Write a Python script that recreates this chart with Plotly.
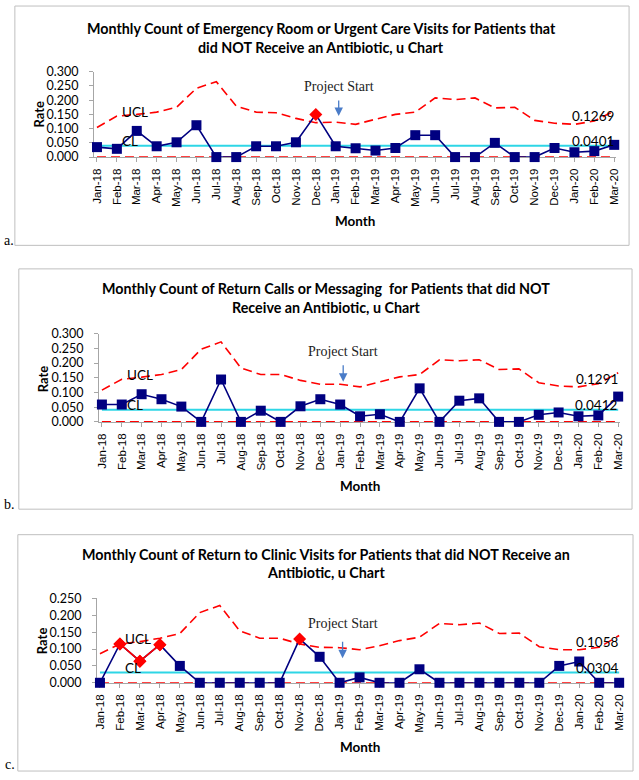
import plotly.graph_objects as go

months = ["Jan-18", "Feb-18", "Mar-18", "Apr-18", "May-18", "Jun-18", "Jul-18", "Aug-18",
          "Sep-18", "Oct-18", "Nov-18", "Dec-18", "Jan-19", "Feb-19", "Mar-19", "Apr-19",
          "May-19", "Jun-19", "Jul-19", "Aug-19", "Sep-19", "Oct-19", "Nov-19", "Dec-19",
          "Jan-20", "Feb-20", "Mar-20"]

# Panel a: Emergency Room or Urgent Care Visits
a_rate = [0.035, 0.029, 0.092, 0.038, 0.052, 0.112, 0.0, 0.0, 0.038, 0.038, 0.052, 0.150,
          0.038, 0.031, 0.023, 0.032, 0.077, 0.077, 0.0, 0.0, 0.050, 0.0, 0.0, 0.032,
          0.017, 0.021, 0.043]
a_ucl = [0.104, 0.144, 0.150, 0.158, 0.175, 0.242, 0.265, 0.179, 0.158, 0.156, 0.136, 0.121,
         0.123, 0.115, 0.133, 0.150, 0.158, 0.208, 0.202, 0.208, 0.173, 0.175, 0.129, 0.119,
         0.115, 0.127, 0.162]
a_cl = 0.0401
a_ucl_label = "0.1269"
a_signals = ["Dec-18"]

# Panel b: Return Calls or Messaging
b_rate = [0.059, 0.059, 0.094, 0.077, 0.052, 0.0, 0.144, 0.0, 0.038, 0.0, 0.053, 0.077,
          0.059, 0.019, 0.026, 0.0, 0.114, 0.0, 0.072, 0.080, 0.0, 0.0, 0.024, 0.032,
          0.019, 0.022, 0.086]
b_ucl = [0.108, 0.145, 0.152, 0.161, 0.178, 0.247, 0.272, 0.183, 0.161, 0.161, 0.141, 0.128,
         0.128, 0.119, 0.136, 0.153, 0.161, 0.211, 0.208, 0.211, 0.178, 0.180, 0.133, 0.122,
         0.119, 0.130, 0.167]
b_cl = 0.0412
b_ucl_label = "0.1291"
b_signals = []

# Panel c: Return to Clinic Visits
c_rate = [0.0, 0.115, 0.064, 0.113, 0.050, 0.0, 0.0, 0.0, 0.0, 0.0, 0.130, 0.077,
          0.0, 0.016, 0.0, 0.0, 0.040, 0.0, 0.0, 0.0, 0.0, 0.0, 0.0, 0.050,
          0.063, 0.0, 0.0]
c_ucl = [0.086, 0.115, 0.122, 0.132, 0.146, 0.208, 0.229, 0.154, 0.132, 0.132, 0.115, 0.105,
         0.104, 0.098, 0.110, 0.125, 0.135, 0.176, 0.172, 0.177, 0.146, 0.147, 0.107, 0.098,
         0.098, 0.105, 0.140]
c_cl = 0.0304
c_ucl_label = "0.1058"
c_signals = ["Feb-18", "Mar-18", "Apr-18", "Nov-18"]

titles = [
    ["Monthly Count of Emergency Room or Urgent Care Visits for Patients that",
     "did NOT Receive an Antibiotic, u Chart"],
    ["Monthly Count of Return Calls or Messaging  for Patients that did NOT",
     "Receive an Antibiotic, u Chart"],
    ["Monthly Count of Return to Clinic Visits for Patients that did NOT Receive an",
     "Antibiotic, u Chart"],
]
y_ticks = [[0.0, 0.05, 0.10, 0.15, 0.20, 0.25, 0.30],
           [0.0, 0.05, 0.10, 0.15, 0.20, 0.25, 0.30],
           [0.0, 0.05, 0.10, 0.15, 0.20, 0.25]]
panel_letters = ["a.", "b.", "c."]

W, H = 639, 780


def fx(p):
    return p / W


def fy(p):
    return 1 - p / H


# layout geometry in pixels (styling only)
geo = [
    dict(ax_left=92, ax_right=620, y0=152, ytop=65, ymax=0.30, box=(12, -2, 633, 242),
         t1=21, t2=40, tx=322, rate=(36, 108), month=(356, 217), letter=(6, 237),
         proj=(80, 93, 110)),
    dict(ax_left=97, ax_right=624, y0=422, ytop=332, ymax=0.30, box=(16, 266, 636, 511),
         t1=286, t2=305, tx=327, rate=(40, 378), month=(361, 487), letter=(7, 506),
         proj=(350, 363, 381)),
    dict(ax_left=95, ax_right=625, y0=688, ytop=602, ymax=0.25, box=(15, 537, 637, 778),
         t1=557, t2=576, tx=327, rate=(39, 645), month=(361, 753), letter=(7, 771),
         proj=(628, 645, 663)),
]

data = [
    (a_rate, a_ucl, a_cl, a_ucl_label, a_signals),
    (b_rate, b_ucl, b_cl, b_ucl_label, b_signals),
    (c_rate, c_ucl, c_cl, c_ucl_label, c_signals),
]

NAVY = "#000080"
RED = "#FF0000"
CYAN = "#2ED6E6"
GRAY = "#A6A6A6"
CAL = "Lato, 'Open Sans', sans-serif"
ARIAL = "'Liberation Sans', Arial, sans-serif"
TIMES = "'Liberation Serif', 'Times New Roman', serif"

fig = go.Figure()
annotations = []
shapes = []
layout_axes = {}

for i, ((rate, ucl, cl, ucl_lab, signals), g) in enumerate(zip(data, geo)):
    n = "" if i == 0 else str(i + 1)
    xa, ya = "x" + n, "y" + n
    lo, hi = -0.15, 26.1

    # UCL
    fig.add_trace(go.Scatter(x=months, y=ucl, xaxis=xa, yaxis=ya, mode="lines",
                             line=dict(color=RED, width=1.6, dash="9px,5px"),
                             showlegend=False, hoverinfo="skip"))
    # LCL
    fig.add_trace(go.Scatter(x=months, y=[0.0] * len(months), xaxis=xa, yaxis=ya, mode="lines",
                             line=dict(color=RED, width=1.6, dash="9px,5px"),
                             showlegend=False, hoverinfo="skip", cliponaxis=False))
    # CL
    fig.add_trace(go.Scatter(x=months, y=[cl] * len(months), xaxis=xa, yaxis=ya, mode="lines",
                             line=dict(color=CYAN, width=2),
                             showlegend=False, hoverinfo="skip"))
    # data line
    sym = ["diamond" if m in signals else "square" for m in months]
    col = [RED if m in signals else NAVY for m in months]
    fig.add_trace(go.Scatter(x=months, y=rate, xaxis=xa, yaxis=ya, mode="lines+markers",
                             line=dict(color=NAVY, width=1.6),
                             marker=dict(symbol=sym, color=col, size=10, opacity=1,
                                         line=dict(width=0)),
                             showlegend=False, cliponaxis=False))
    # red segments between consecutive signal points
    idx = [months.index(s) for s in signals]
    run = []
    runs = []
    for k in idx:
        if run and k == run[-1] + 1:
            run.append(k)
        else:
            if len(run) > 1:
                runs.append(run)
            run = [k]
    if len(run) > 1:
        runs.append(run)
    for r in runs:
        fig.add_trace(go.Scatter(x=[months[k] for k in r], y=[rate[k] for k in r],
                                 xaxis=xa, yaxis=ya, mode="lines+markers",
                                 line=dict(color=RED, width=1.6),
                                 marker=dict(symbol="diamond", color=RED, size=10, opacity=1),
                                 showlegend=False, cliponaxis=False))

    layout_axes["xaxis" + n] = dict(
        domain=[fx(g["ax_left"]), fx(g["ax_right"])], anchor=ya, type="category",
        categoryorder="array", categoryarray=months, range=[lo, hi],
        tickangle=-90, tickfont=dict(family=ARIAL, size=11.5, color="#000"),
        showline=True, linecolor=GRAY, linewidth=1, ticks="outside", ticklen=4,
        tickcolor=GRAY, showgrid=False, zeroline=False, layer="below traces",
        ticklabelstandoff=2, fixedrange=True)
    layout_axes["yaxis" + n] = dict(
        domain=[fy(g["y0"]), fy(g["ytop"])], anchor=xa, range=[0, g["ymax"]],
        tickvals=y_ticks[i], tickformat=".3f",
        tickfont=dict(family=CAL, size=12.5, color="#000"),
        showline=True, linecolor=GRAY, linewidth=1, ticks="outside", ticklen=4,
        tickcolor=GRAY, showgrid=False, zeroline=False, layer="below traces",
        ticklabelstandoff=8, fixedrange=True)

    # box
    bx0, by0, bx1, by1 = g["box"]
    shapes.append(dict(type="rect", xref="paper", yref="paper",
                       x0=fx(bx0), x1=fx(bx1), y0=fy(by1), y1=fy(by0),
                       line=dict(color="#BFBFBF", width=1), fillcolor="rgba(0,0,0,0)"))
    # titles
    for t, ty in zip(titles[i], (g["t1"], g["t2"])):
        annotations.append(dict(xref="paper", yref="paper", x=fx(g["tx"]), y=fy(ty),
                                text="<b>" + t + "</b>", showarrow=False,
                                xanchor="center", yanchor="middle",
                                font=dict(family=CAL, size=14.3, color="#000")))
    # axis titles
    annotations.append(dict(xref="paper", yref="paper", x=fx(g["rate"][0]), y=fy(g["rate"][1]),
                            text="<b>Rate</b>", textangle=-90, showarrow=False,
                            xanchor="center", yanchor="middle",
                            font=dict(family=CAL, size=13, color="#000")))
    annotations.append(dict(xref="paper", yref="paper", x=fx(g["month"][0]), y=fy(g["month"][1]),
                            text="<b>Month</b>", showarrow=False,
                            xanchor="center", yanchor="middle",
                            font=dict(family=CAL, size=13.5, color="#000")))
    # panel letter
    annotations.append(dict(xref="paper", yref="paper", x=fx(g["letter"][0]), y=fy(g["letter"][1]),
                            text=panel_letters[i], showarrow=False,
                            xanchor="center", yanchor="middle",
                            font=dict(family=TIMES, size=14, color="#000")))
    # UCL / CL labels
    annotations.append(dict(xref=xa, yref=ya, x=months[1], y=ucl[1], text="UCL",
                            showarrow=False, xanchor="left", yanchor="middle",
                            xshift=3, yshift=4.5,
                            font=dict(family=CAL, size=13.5, color="#000")))
    annotations.append(dict(xref=xa, yref=ya, x=months[1], y=cl, text="CL",
                            showarrow=False, xanchor="left", yanchor="middle",
                            xshift=3, yshift=4.5,
                            font=dict(family=CAL, size=13.5, color="#000")))
    # value labels at right
    annotations.append(dict(xref=xa, yref=ya, x=months[-1], y=float(ucl_lab), text=ucl_lab,
                            showarrow=False, xanchor="right", yanchor="middle",
                            xshift=2, yshift=5,
                            font=dict(family=CAL, size=13.5, color="#000")))
    annotations.append(dict(xref=xa, yref=ya, x=months[-1], y=cl, text=f"{cl:.4f}",
                            showarrow=False, xanchor="right", yanchor="middle",
                            xshift=2, yshift=5,
                            font=dict(family=CAL, size=13.5, color="#000")))
    # Project start
    ty, a0, a1 = g["proj"]
    annotations.append(dict(xref=xa, yref="paper", x=months[12], y=fy(ty), xshift=3,
                            text="Project Start", showarrow=False,
                            xanchor="center", yanchor="middle",
                            font=dict(family=TIMES, size=14, color="#222")))
    annotations.append(dict(xref=xa, yref="paper", x=months[12], y=fy(a1), xshift=3,
                            axref="pixel", ayref="pixel", ax=0, ay=-(a1 - a0),
                            text="", showarrow=True, arrowhead=2, arrowsize=1.3,
                            arrowwidth=1.3, arrowcolor="#4A7CC8"))

fig.update_layout(width=W, height=H, margin=dict(l=0, r=0, t=0, b=0),
                  paper_bgcolor="white", plot_bgcolor="white",
                  showlegend=False, annotations=annotations, shapes=shapes,
                  **layout_axes)

fig.write_html("out.html", config={"displayModeBar": False},
               post_script="document.body.style.margin='0';document.body.style.padding='0';")
